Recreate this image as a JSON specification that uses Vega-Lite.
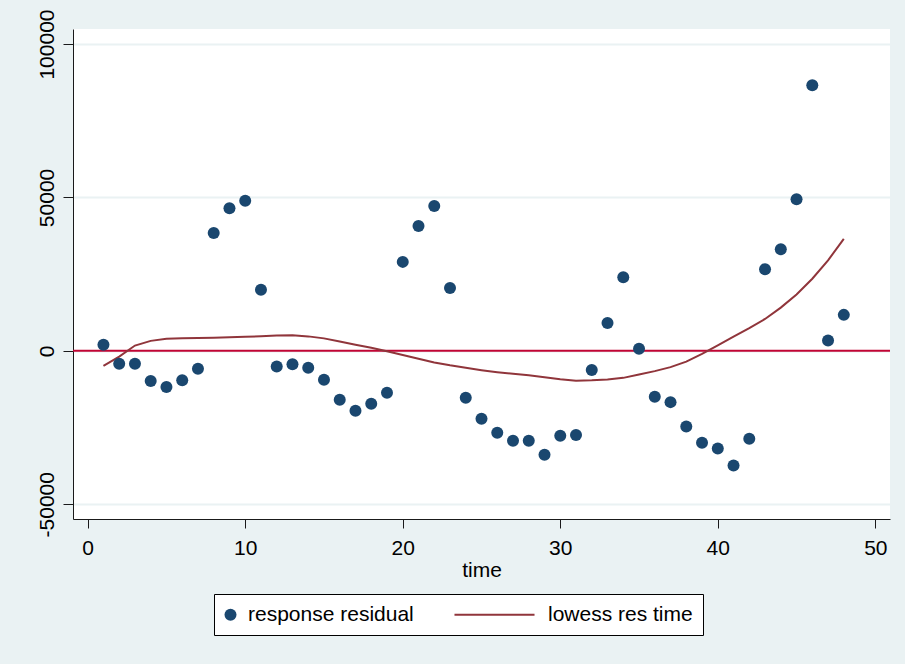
{
  "$schema": "https://vega.github.io/schema/vega-lite/v6.json",
  "width": 817,
  "height": 490,
  "autosize": {"type": "none"},
  "padding": {"left": 73, "top": 29, "right": 15, "bottom": 145},
  "background": "#EAF2F3",
  "config": {
    "view": {"fill": "white", "stroke": null},
    "font": "Liberation Sans",
    "axis": {"domainColor": "#1a1a1a", "tickColor": "#1a1a1a", "labelColor": "black", "titleColor": "black", "labelFont": "Liberation Sans", "titleFont": "Liberation Sans"},
    "legend": {
      "orient": "none", "legendX": 141, "legendY": 565, "direction": "horizontal",
      "strokeColor": "black", "fillColor": "white", "padding": 10,
      "labelFontSize": 21, "labelFont": "Liberation Sans", "labelColor": "black", "labelLimit": 400,
      "symbolSize": 144, "symbolStrokeWidth": 2, "symbolOffset": -4, "labelOffset": 7, "columnPadding": 36, "title": null
    }
  },
  "datasets": {
    "residuals": [
      {"time": 1, "res": 2000}, {"time": 2, "res": -4200}, {"time": 3, "res": -4200},
      {"time": 4, "res": -9800}, {"time": 5, "res": -11800}, {"time": 6, "res": -9550},
      {"time": 7, "res": -5860}, {"time": 8, "res": 38400}, {"time": 9, "res": 46500},
      {"time": 10, "res": 48950}, {"time": 11, "res": 19900}, {"time": 12, "res": -5100},
      {"time": 13, "res": -4340}, {"time": 14, "res": -5540}, {"time": 15, "res": -9450},
      {"time": 16, "res": -15960}, {"time": 17, "res": -19540}, {"time": 18, "res": -17260},
      {"time": 19, "res": -13680}, {"time": 20, "res": 29000}, {"time": 21, "res": 40700},
      {"time": 22, "res": 47200}, {"time": 23, "res": 20500}, {"time": 24, "res": -15300},
      {"time": 25, "res": -22150}, {"time": 26, "res": -26700}, {"time": 27, "res": -29300},
      {"time": 28, "res": -29300}, {"time": 29, "res": -33870}, {"time": 30, "res": -27700},
      {"time": 31, "res": -27400}, {"time": 32, "res": -6200}, {"time": 33, "res": 9100},
      {"time": 34, "res": 24000}, {"time": 35, "res": 650}, {"time": 36, "res": -14980},
      {"time": 37, "res": -16710}, {"time": 38, "res": -24650}, {"time": 39, "res": -29960},
      {"time": 40, "res": -31810}, {"time": 41, "res": -37350}, {"time": 42, "res": -28660},
      {"time": 43, "res": 26600}, {"time": 44, "res": 33120}, {"time": 45, "res": 49400},
      {"time": 46, "res": 86530}, {"time": 47, "res": 3360}, {"time": 48, "res": 11730}
    ],
    "lowess": [
      {"time": 1, "fit": -4890}, {"time": 2, "fit": -1860}, {"time": 3, "fit": 1730},
      {"time": 4, "fit": 3260}, {"time": 5, "fit": 3910}, {"time": 6, "fit": 4140},
      {"time": 7, "fit": 4230}, {"time": 8, "fit": 4300}, {"time": 9, "fit": 4400},
      {"time": 10, "fit": 4560}, {"time": 11, "fit": 4790}, {"time": 12, "fit": 4980},
      {"time": 13, "fit": 5050}, {"time": 14, "fit": 4720}, {"time": 15, "fit": 4070},
      {"time": 16, "fit": 3030}, {"time": 17, "fit": 2020}, {"time": 18, "fit": 980},
      {"time": 19, "fit": -100}, {"time": 20, "fit": -1340}, {"time": 21, "fit": -2600},
      {"time": 22, "fit": -3780}, {"time": 23, "fit": -4720}, {"time": 24, "fit": -5540},
      {"time": 25, "fit": -6290}, {"time": 26, "fit": -6940}, {"time": 27, "fit": -7490},
      {"time": 28, "fit": -7980}, {"time": 29, "fit": -8630}, {"time": 30, "fit": -9280},
      {"time": 31, "fit": -9770}, {"time": 32, "fit": -9610}, {"time": 33, "fit": -9300},
      {"time": 34, "fit": -8800}, {"time": 35, "fit": -7700}, {"time": 36, "fit": -6600},
      {"time": 37, "fit": -5300}, {"time": 38, "fit": -3500}, {"time": 39, "fit": -1000},
      {"time": 40, "fit": 1800}, {"time": 41, "fit": 4600}, {"time": 42, "fit": 7400},
      {"time": 43, "fit": 10400}, {"time": 44, "fit": 14100}, {"time": 45, "fit": 18400},
      {"time": 46, "fit": 23500}, {"time": 47, "fit": 29500}, {"time": 48, "fit": 36500}
    ],
    "ref": [{"y": 0}]
  },
  "layer": [
    {
      "data": {"name": "ref"},
      "mark": {"type": "rule", "color": "#C10534", "strokeWidth": 2},
      "encoding": {
        "y": {"field": "y", "type": "quantitative", "title": null,
              "scale": {"domain": [-54800, 104900], "nice": false, "zero": false}}
      }
    },
    {
      "data": {"name": "lowess"},
      "mark": {"type": "line", "strokeWidth": 2, "color": "#90353B"},
      "encoding": {
        "x": {"field": "time", "type": "quantitative", "title": "time"},
        "y": {"field": "fit", "type": "quantitative", "title": null}
      }
    },
    {
      "data": {"name": "residuals"},
      "mark": {"type": "point", "filled": true, "size": 144, "opacity": 1, "strokeWidth": 0},
      "encoding": {
        "x": {
          "field": "time", "type": "quantitative", "title": "time",
          "scale": {"domain": [-0.933, 50.933], "nice": false, "zero": false},
          "axis": {"values": [0, 10, 20, 30, 40, 50], "grid": false, "tickSize": 9, "labelPadding": 9,
                   "labelFontSize": 21, "titleFontSize": 21, "titleFontWeight": "normal", "titlePadding": 1,
                   "domainWidth": 1, "tickWidth": 1}
        },
        "y": {
          "field": "res", "type": "quantitative", "title": null,
          "axis": {"values": [-50000, 0, 50000, 100000], "grid": true, "gridColor": "#EAF2F3", "gridWidth": 2,
                   "tickSize": 10, "labelAngle": -90, "labelAlign": "center", "labelBaseline": "bottom", "labelPadding": 6,
                   "labelFontSize": 21, "domainWidth": 1, "tickWidth": 1,
                   "labelExpr": "datum.value < 0 ? '-' + abs(datum.value) : '' + datum.value"}
        },
        "fill": {
          "datum": "response residual",
          "scale": {"domain": ["response residual", "lowess res time"], "range": ["#1A476F", "transparent"]},
          "legend": {"title": null}
        },
        "stroke": {
          "datum": "response residual",
          "scale": {"domain": ["response residual", "lowess res time"], "range": ["transparent", "#90353B"]},
          "legend": {"title": null}
        },
        "shape": {
          "datum": "response residual",
          "scale": {"domain": ["response residual", "lowess res time"], "range": ["circle", "M-12.67,0L0.67,0"]},
          "legend": {"title": null}
        }
      }
    }
  ]
}
